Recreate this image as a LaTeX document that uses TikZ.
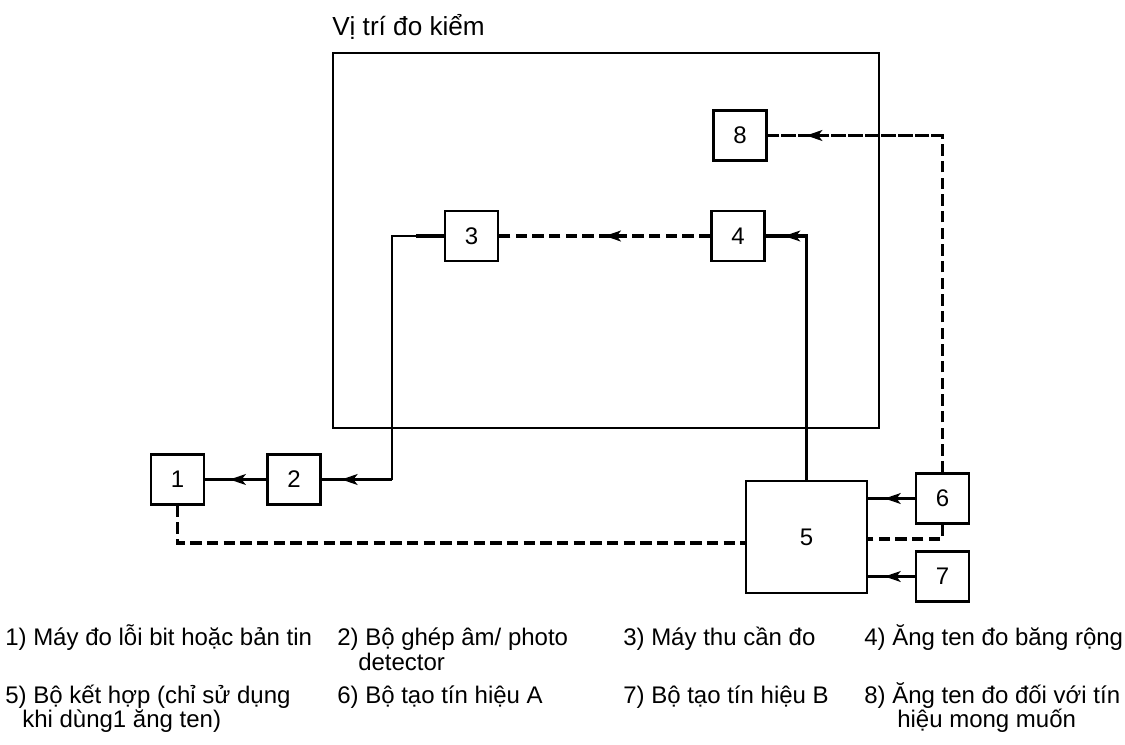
\documentclass[tikz,border=0pt]{standalone}
\usepackage{fontspec}
\setmainfont{Liberation Sans}
\usetikzlibrary{arrows.meta,decorations.markings}
\tikzset{
  blk/.style={draw,line width=1.8pt,inner sep=0pt,minimum width=39.75pt,minimum height=37.5pt},
  con/.style={line width=2.3pt},
  dsh/.style={line width=2.3pt,dash pattern=on 8.5pt off 4pt},
  thin/.style={line width=1.4pt},
  arr/.style={postaction={decorate},decoration={markings,mark=at position #1 with {\arrow{Stealth[length=12pt,width=8pt,inset=3pt]}}}},
  lg/.style={anchor=base west,inner sep=0pt},
}
\begin{document}
\begin{tikzpicture}[x=0.75pt,y=-0.75pt,font=\fontsize{18}{20}\selectfont]
\useasboundingbox (0,0) rectangle (1125,744);
% frame
\node[lg,font=\fontsize{19.6}{22}\selectfont] (title) at (332,35) {Vị trí đo kiểm};
\draw[line width=1.8pt] (333,53) rectangle (879,428);
% blocks
\node[blk] (b1) at (177.5,479.5) {1};
\node[blk] (b2) at (294,479.5) {2};
\node[blk] (b3) at (471.5,236) {3};
\node[blk] (b4) at (738,236) {4};
\node[blk] (b8) at (740,135.5) {8};
\node[blk,minimum width=90.75pt,minimum height=84pt] (b5) at (806.5,537) {5};
\node[blk] (b6) at (942.5,498.5) {6};
\node[blk] (b7) at (942.5,576.5) {7};
% helper coordinates
\coordinate (k3) at (392,236);
\coordinate (k1) at (177.5,543);
\coordinate (k6) at (942.5,539);
% connectors
\draw[con] (b5.north) |- (b4.east);
\draw[con,arr=0.55] (b5.north |- b4.east) -- (b4.east);
\draw[dsh,arr=0.5] (b4.west) -- (b3.east);
\draw[con] (b3.west) -- (k3 -| 416,0);
\draw[thin] (k3 -| 416,0) -- (k3) |- (b2.east);
\draw[con,arr=0.72] (k3 |- b2.east) -- (b2.east);
\draw[con,arr=0.6] (b2.west) -- (b1.east);
\draw[dsh] (b1.south) -- (k1) -- (k1 -| b5.west);
\draw[dsh] (b6.north) |- (b8.east);
\draw[dsh,arr=0.78] (b6.north |- b8.east) -- (b8.east);
\draw[con,arr=0.65] (b6.west) -- (b6.west -| b5.east);
\draw[dsh] (b6.south) -- (k6) -- (k6 -| b5.east);
\draw[con,arr=0.65] (b7.west) -- (b7.west -| b5.east);
% legend
\node[lg] (l1) at (5,645) {1) Máy đo lỗi bit hoặc bản tin};
\node[lg] (l2) at (337,645) {2) Bộ ghép âm/ photo};
\node[lg] (l2b) at (358,670) {detector};
\node[lg] (l3) at (623,645) {3) Máy thu cần đo};
\node[lg] (l4) at (864,645) {4) Ăng ten đo băng rộng};
\node[lg] (l5) at (5,703) {5) Bộ kết hợp (chỉ sử dụng};
\node[lg] (l5b) at (22,727) {khi dùng1 ăng ten)};
\node[lg] (l6) at (337,703) {6) Bộ tạo tín hiệu A};
\node[lg] (l7) at (623,703) {7) Bộ tạo tín hiệu B};
\node[lg] (l8) at (864,703) {8) Ăng ten đo đối với tín};
\node[lg] (l8b) at (897,727) {hiệu mong muốn};
\end{tikzpicture}
\end{document}
